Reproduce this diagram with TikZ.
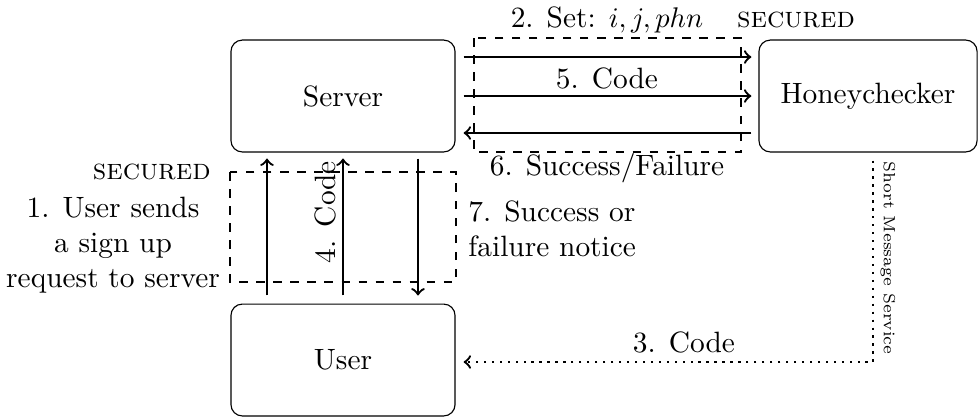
\documentclass[tikz,border=0pt]{standalone}
\usetikzlibrary{calc}
\begin{document}
\begin{tikzpicture}[x=0.3521pt,y=-0.3521pt,
  every node/.append style={font=\fontsize{10.35}{12.4}\selectfont},
  box/.style={draw, rounded corners=4pt, minimum width=78.9pt, minimum height=39.4pt, inner sep=0pt},
  arr/.style={->, thick},
  dashbox/.style={dashed, thick},
  smsline/.style={->, dotted, thick},
  lbl/.style={inner sep=1pt}]
\useasboundingbox (0,0) rectangle (978,417);
% boxes
\node[box] (server) at (343,96) {Server};
\node[box, minimum width=76.8pt] (honey) at (868,96) {Honeychecker};
\node[box] (user) at (343,360) {User};
% secured regions
\draw[dashbox] (474,38) rectangle (741,152);
\draw[dashbox] (230,172) rectangle (456,282);
% server <-> honeychecker
\draw[arr] ([shift={(8,-39)}]server.east) -- ([shift={(-7,-39)}]honey.west);
\draw[arr] ([shift={(8,0)}]server.east) -- ([shift={(-7,0)}]honey.west);
\draw[arr] ([shift={(-7,37)}]honey.west) -- ([shift={(8,37)}]server.east);
% user <-> server
\draw[arr] ([shift={(-76,-8)}]user.north) -- ([shift={(-76,6)}]server.south);
\draw[arr] ([shift={(0,-8)}]user.north) -- ([shift={(0,6)}]server.south);
\draw[arr] ([shift={(75,6)}]server.south) -- ([shift={(75,-8)}]user.north);
% SMS
\draw[smsline] ([shift={(5,8)}]honey.south) |- ([shift={(8,2)}]user.east);
% labels
\node[lbl] (l2) at (607,20) {2. Set: $i, j, phn$};
\node[lbl] (l5) at (607,78) {5. Code};
\node[lbl] (l6) at (607,168) {6. Success/Failure};
\node[lbl] (sec1) at (796,20) {\textsc{secured}};
\node[lbl, anchor=east] (sec2) at (214,172) {\textsc{secured}};
\node[lbl, align=center] (l1) at (113,245) {1. User sends\\a sign up\\request to server};
\node[lbl, align=left, anchor=west] (l7) at (465,229) {7. Success or\\failure notice};
\node[lbl, rotate=90] (l4) at (325,212) {4. Code};
\node[lbl, rotate=-90, font=\fontsize{5.7}{7}\selectfont] (sms) at (888,258) {Short Message Service};
\node[lbl] (l3) at (684,342) {3. Code};
\end{tikzpicture}
\end{document}
